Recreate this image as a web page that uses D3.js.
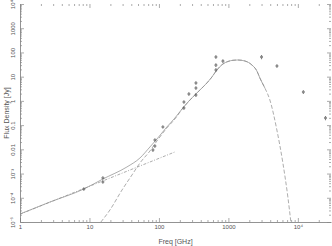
<!DOCTYPE html>
<html>
<head>
<script src="https://d3js.org/d3.v7.min.js"></script>
<style>
    body { margin: 0; background: #fff; }
    svg { display: block; }
    .tick text { font: 6px "Liberation Sans", Arial, sans-serif; fill: #555; }
    .tick line { stroke: #888; stroke-width: 0.7px; }
    .domain { stroke: #777; stroke-width: 0.8px; }
    .title { font: 7px "Liberation Sans", Arial, sans-serif; fill: #555; }
    .model { fill: none; stroke: #8a8a8a; stroke-width: 0.7px; }
    .point { fill: none; stroke: #444; stroke-width: 0.6px; }
    .err { stroke: #555; stroke-width: 0.6px; }
</style>
</head>
<body>
<script>
// measured fluxes (GHz, Jy)
var freq = [8.3, 15.6, 15.6, 82, 87.5, 87.5, 114, 229, 229, 270, 341, 341, 341, 661, 661, 661, 834, 3000, 5000, 12000, 25000];
var flux = [2.3e-4, 6.6e-4, 4.5e-4, 9.4e-3, 0.0137, 0.0243, 0.084, 0.51, 0.90, 1.93, 1.75, 3.4, 5.5, 18.9, 30, 65, 44, 65, 27.6, 2.33, 0.197];
var fluxErr = [3e-5, 8e-5, 6e-5, 1.5e-3, 2e-3, 3e-3, 0.01, 0.08, 0.12, 0.3, 0.3, 0.5, 0.8, 3, 5, 10, 7, 13, 4, 0.4, 0.04];

// total model (solid)
var modelFreq = [1, 2.7, 8.3, 15.6, 34.6, 53.3, 74.2, 93.6, 130, 170, 221, 279, 389, 490, 579, 683, 834, 984, 1161, 1370, 1728, 2178, 2571, 2840, 3351];
var totalFlux = [2.14e-5, 6.69e-5, 2.30e-4, 5.96e-4, 1.87e-3, 4.39e-3, 0.0125, 0.0267, 0.0836, 0.197, 0.509, 1.09, 2.82, 5.48, 9.70, 18.9, 33.4, 42.3, 47.5, 48.8, 44.4, 30.4, 17.2, 8.82, 3.41];

// dust component (dashed)
var dustFreq = [14.6, 19.7, 29.4, 40.9, 53.3, 74.2, 93.6, 130, 170, 221, 279, 389, 490, 579, 683, 834, 984, 1161, 1370, 1728, 2178, 2571, 2840, 3351, 3955, 4988, 6085, 7179, 7930];
var dustFlux = [1e-5, 3.13e-5, 2.09e-4, 8.72e-4, 2.73e-3, 8.54e-3, 0.0221, 0.076, 0.179, 0.50, 1.07, 2.80, 5.45, 9.65, 18.8, 33.3, 42.2, 47.4, 48.8, 44.4, 30.4, 17.2, 8.82, 3.41, 1.09, 0.0629, 2.73e-3, 1.08e-4, 1e-5];

// synchrotron component (dash-dot)
var syncFreq = [1, 170];
var syncFlux = [2.1e-5, 7.8e-3];

var xLabels = ["1", "10", "100", "1000", "10\u2074"];          // 10^0 .. 10^4
var yLabels = ["10\u207b\u2075", "10\u207b\u2074", "10\u207b\u00b3", "0.01", "0.1", "1", "10", "100", "1000", "10\u2074"]; // 10^-5 .. 10^4

var width = 332, height = 246;
var svg = d3.select("body").append("svg").attr("width", width).attr("height", height);

var x = d3.scaleLog().domain([1, 3e4]).range([20, 331]);
var y = d3.scaleLog().domain([1e-5, 1e4]).range([222, 4]);

function logTicks(e0, e1) {
    var t = [];
    for (var e = e0; e < e1; e++)
        for (var m = 1; m < 10; m++) t.push(m * Math.pow(10, e));
    t.push(Math.pow(10, e1));
    return t;
}
function isMajor(d) {
    var l = Math.log10(d);
    return Math.abs(l - Math.round(l)) < 1e-6;
}
var xTickVals = logTicks(0, 4).concat([2e4]);
var yTickVals = logTicks(-5, 4);

function xFmt(d) { return isMajor(d) ? xLabels[Math.round(Math.log10(d))] : ""; }
function yFmt(d) { return isMajor(d) ? yLabels[Math.round(Math.log10(d)) + 5] : ""; }

// bottom
var gx = svg.append("g").attr("transform", "translate(0,222)")
    .call(d3.axisBottom(x).tickValues(xTickVals).tickSizeInner(-2).tickSizeOuter(0).tickPadding(3).tickFormat(xFmt));
gx.selectAll(".tick line").filter(isMajor).attr("y2", -4);

// left
var gy = svg.append("g").attr("transform", "translate(20,0)")
    .call(d3.axisLeft(y).tickValues(yTickVals).tickSizeInner(-2).tickSizeOuter(0).tickFormat(yFmt));
gy.selectAll(".tick line").filter(isMajor).attr("x2", 4);
gy.selectAll(".tick text")
    .attr("transform", "rotate(-90)")
    .attr("x", 0).attr("y", -5).attr("dy", 0)
    .attr("text-anchor", "middle");

// top and right: ticks only
var gt = svg.append("g").attr("transform", "translate(0,4)")
    .call(d3.axisTop(x).tickValues(xTickVals).tickSizeInner(-2).tickSizeOuter(0).tickFormat(""));
gt.selectAll(".tick line").filter(isMajor).attr("y2", 4);
gt.select(".domain").remove();

var gr = svg.append("g").attr("transform", "translate(331,0)")
    .call(d3.axisRight(y).tickValues(yTickVals).tickSizeInner(-2).tickSizeOuter(0).tickFormat(""));
gr.selectAll(".tick line").filter(isMajor).attr("x2", -4);
gr.select(".domain").remove();

// titles
svg.append("text").attr("class", "title")
    .attr("x", 175.5).attr("y", 244).attr("text-anchor", "middle")
    .text("Freq [GHz]");
svg.append("text").attr("class", "title")
    .attr("transform", "translate(9,113) rotate(-90)").attr("text-anchor", "middle")
    .text("Flux Density [Jy]");

// model curves
svg.append("clipPath").attr("id", "plot")
    .append("rect").attr("x", 20).attr("y", 4).attr("width", 311).attr("height", 218);
var plot = svg.append("g").attr("clip-path", "url(#plot)");

var line = d3.line()
    .x(function(d) { return x(d[0]); })
    .y(function(d) { return y(d[1]); })
    .curve(d3.curveMonotoneX);

plot.append("path").attr("class", "model")
    .attr("stroke-dasharray", "3,1.5,1,1.5")
    .attr("d", line(d3.zip(syncFreq, syncFlux)));
plot.append("path").attr("class", "model")
    .attr("stroke-dasharray", "4,2")
    .attr("d", line(d3.zip(dustFreq, dustFlux)));
plot.append("path").attr("class", "model")
    .attr("d", line(d3.zip(modelFreq, totalFlux)));

// data points
var pts = d3.range(freq.length);
plot.selectAll(".err").data(pts).enter().append("line")
    .attr("class", "err")
    .attr("x1", function(i) { return x(freq[i]); })
    .attr("x2", function(i) { return x(freq[i]); })
    .attr("y1", function(i) { return y(flux[i] - fluxErr[i]); })
    .attr("y2", function(i) { return y(flux[i] + fluxErr[i]); });
plot.selectAll(".point").data(pts).enter().append("circle")
    .attr("class", "point")
    .attr("cx", function(i) { return x(freq[i]); })
    .attr("cy", function(i) { return y(flux[i]); })
    .attr("r", 1.1);
</script>
</body>
</html>
